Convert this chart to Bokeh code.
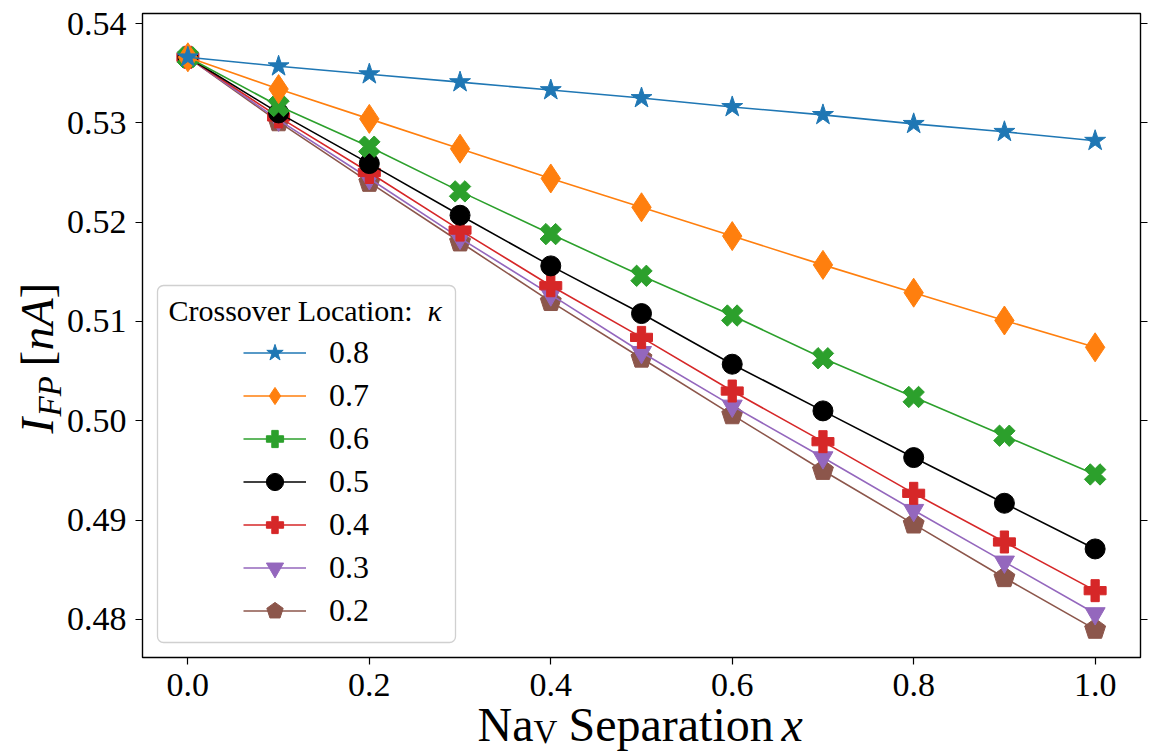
from bokeh.plotting import figure
from bokeh.models import (Range1d, LinearAxis, Label, Legend, LegendItem,
                          BoxAnnotation, FixedTicker, PrintfTickFormatter)
from bokeh.embed import file_html
from bokeh.resources import INLINE
import math

# ---------------- data ----------------
x_sep = [0.0, 0.1, 0.2, 0.3, 0.4, 0.5, 0.6, 0.7, 0.8, 0.9, 1.0]
kappa_labels = ["0.8", "0.7", "0.6", "0.5", "0.4", "0.3", "0.2"]
i_fp_k08 = [0.5366, 0.5357, 0.5349, 0.5341, 0.5333, 0.5325, 0.5316, 0.5308, 0.5299, 0.5291, 0.5282]
i_fp_k07 = [0.5366, 0.5334, 0.5304, 0.5274, 0.5244, 0.5215, 0.5186, 0.5157, 0.5129, 0.5101, 0.5074]
i_fp_k06 = [0.5366, 0.5317, 0.5276, 0.5231, 0.5188, 0.5146, 0.5106, 0.5063, 0.5024, 0.4985, 0.4946]
i_fp_k05 = [0.5366, 0.5310, 0.5259, 0.5207, 0.5156, 0.5108, 0.5057, 0.5010, 0.4963, 0.4917, 0.4871]
i_fp_k04 = [0.5366, 0.5306, 0.5250, 0.5192, 0.5136, 0.5084, 0.5030, 0.4979, 0.4927, 0.4878, 0.4829]
i_fp_k03 = [0.5366, 0.5303, 0.5244, 0.5184, 0.5127, 0.5069, 0.5015, 0.4963, 0.4910, 0.4858, 0.4806]
i_fp_k02 = [0.5366, 0.5301, 0.5240, 0.5180, 0.5120, 0.5063, 0.5006, 0.4950, 0.4896, 0.4842, 0.4790]
x_ticks = [0.0, 0.2, 0.4, 0.6, 0.8, 1.0]
y_ticks = [0.48, 0.49, 0.50, 0.51, 0.52, 0.53, 0.54]

series = [i_fp_k08, i_fp_k07, i_fp_k06, i_fp_k05, i_fp_k04, i_fp_k03, i_fp_k02]
colors = ["#1f77b4", "#ff7f0e", "#2ca02c", "#000000", "#d62728", "#9467bd", "#8c564b"]
markers = ["star", "diamond", "plus", "circle", "plus", "inverted_triangle", "pentagon"]
msizes = [22, 29, 22, 20, 22, 20, 20]
mangles = [0, 0, math.pi / 4, 0, 0, 0, 0]

SERIF = "Liberation Serif"

# ---------------- layout (pixels) ----------------
W, H = 1150, 751
BOX_L, BOX_R, BOX_T, BOX_B = 142, 1140, 13, 657       # visible axes box
X0, X1 = -0.05, 1.05                                  # visible x limits
Y0, Y1 = 0.47617, 0.54101                             # visible y limits
kx = (BOX_R - BOX_L) / (X1 - X0)
ky = (BOX_B - BOX_T) / (Y1 - Y0)
xr = Range1d(X0 - BOX_L / kx, X1 + (W - BOX_R) / kx)
yr = Range1d(Y0 - (H - BOX_B) / ky, Y1 + BOX_T / ky)

p = figure(width=W, height=H, x_range=xr, y_range=yr, output_backend="svg",
           toolbar_location=None, x_axis_type=None, y_axis_type=None,
           min_border=0, min_border_left=0, min_border_right=0,
           min_border_top=0, min_border_bottom=0)
p.grid.visible = False
p.outline_line_color = None
p.background_fill_color = "white"
p.border_fill_color = "white"

def style_axis(ax, standoff):
    ax.major_label_text_font = SERIF
    ax.major_label_text_font_size = "34px"
    ax.major_label_text_color = "black"
    ax.major_tick_out = 7
    ax.major_tick_in = 0
    ax.minor_tick_out = 0
    ax.minor_tick_in = 0
    ax.axis_line_color = None
    ax.major_tick_line_color = "black"
    ax.major_tick_line_width = 1.2
    ax.major_label_standoff = standoff

xa = LinearAxis(fixed_location=Y0, ticker=FixedTicker(ticks=x_ticks),
                formatter=PrintfTickFormatter(format="%.1f"))
style_axis(xa, 9)
p.add_layout(xa, "below")

ya = LinearAxis(fixed_location=X0, ticker=FixedTicker(ticks=y_ticks),
                formatter=PrintfTickFormatter(format="%.2f"))
style_axis(ya, 9)
p.add_layout(ya, "left")

ry = LinearAxis(fixed_location=X1, ticker=FixedTicker(ticks=y_ticks),
                major_label_overrides={t: "" for t in y_ticks})
style_axis(ry, 0)
p.add_layout(ry, "right")

renderers = {}
for i in reversed(range(len(series))):
    ys = series[i]
    c = colors[i]
    lr = p.line(x_sep, ys, line_color=c, line_width=1.6)
    if markers[i] == "pentagon" and hasattr(p, "ngon"):
        sr = p.ngon(x_sep, ys, radius=11, n=5, radius_units="screen",
                    fill_color=c, line_color=c, angle=0)
    else:
        mk = markers[i] if markers[i] != "pentagon" else "hex"
        sr = p.scatter(x_sep, ys, marker=mk, size=msizes[i], angle=mangles[i],
                       fill_color=c, line_color=c)
    renderers[i] = [lr, sr]
items = [LegendItem(label=kappa_labels[i], renderers=renderers[i]) for i in range(len(series))]

# axes box (spines)
spines = BoxAnnotation(left=X0, right=X1, bottom=Y0, top=Y1, fill_alpha=0,
                       line_color="black", line_alpha=1.0, line_width=1.4)
p.add_layout(spines)

# legend frame
legbox = BoxAnnotation(left=157, right=455, top=H - 285, bottom=H - 642,
                       left_units="screen", right_units="screen", top_units="screen",
                       bottom_units="screen", fill_color="white", fill_alpha=0.85,
                       line_color="#d0d0d0", line_alpha=1.0, line_width=1.3,
                       border_radius=6)
p.add_layout(legbox)

ROW0, PITCH = 352, 43
leg_bottom = ROW0 + 6 * PITCH + PITCH / 2
leg = Legend(items=items, location=(243, H - leg_bottom), glyph_width=63, glyph_height=PITCH,
             spacing=0, padding=0, margin=0, label_standoff=23,
             label_text_font=SERIF, label_text_font_size="32px", label_text_color="black",
             border_line_alpha=0, background_fill_alpha=0)
p.add_layout(leg)

SHIFT = 0.32  # rendered text sits centred on the anchor; move it so the baseline lands where wanted

def lab(text, x, y, size, italic=False, rotated=False):
    if rotated:
        x = x - SHIFT * size
        ang = math.pi / 2
    else:
        y = y - SHIFT * size
        ang = 0.0
    p.add_layout(Label(x=x, y=H - y, x_units="screen", y_units="screen", text=text,
                       text_font=SERIF, text_font_size=f"{size}px",
                       text_font_style="italic" if italic else "normal",
                       text_baseline="alphabetic", text_align="left",
                       angle=ang, text_color="black"))

# legend title
lab("Crossover Location:", 168, 320, 30)
lab("\u03ba", 427, 320, 30, italic=True)

# x axis label
lab("Na", 477, 739, 48)
lab("V", 533, 742, 33)
lab("Separation", 568, 739, 48)
lab("x", 781, 739, 48, italic=True)

# y axis label (rotated, reads bottom to top)
lab("I", 52, 433, 47, italic=True, rotated=True)
lab("FP", 60, 416, 33, italic=True, rotated=True)
lab("[", 52, 366, 47, rotated=True)
lab("nA", 52, 350, 47, italic=True, rotated=True)
lab("]", 52, 298, 47, rotated=True)

open("out.html", "w").write(file_html(p, INLINE))
